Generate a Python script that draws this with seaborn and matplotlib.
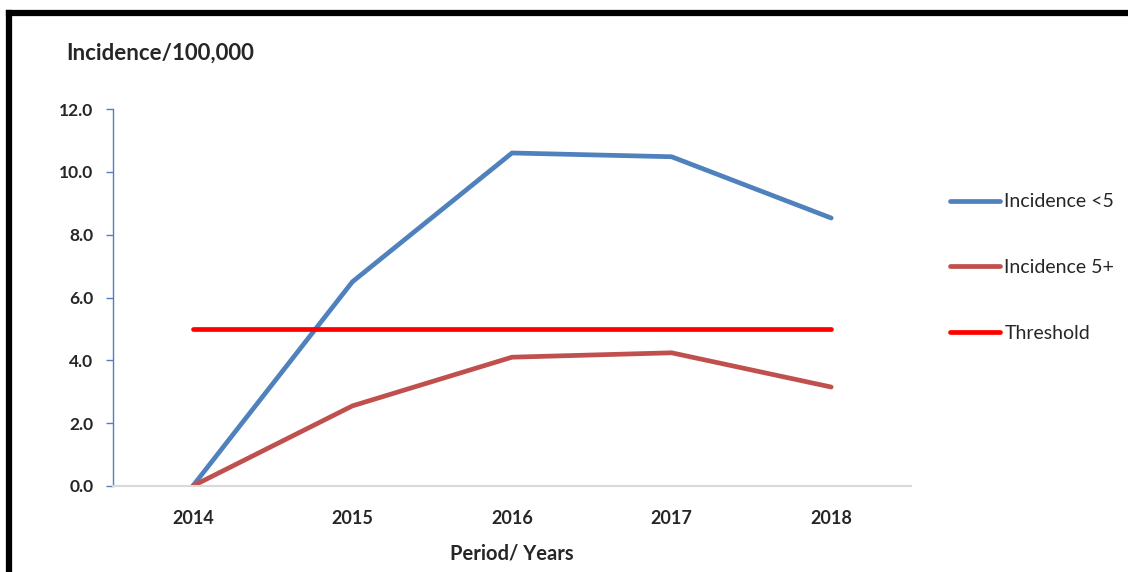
import pandas as pd
import matplotlib.pyplot as plt
import seaborn as sns
from matplotlib.lines import Line2D
from matplotlib.ticker import FixedLocator

# data
years = ['2014', '2015', '2016', '2017', '2018']
incidence_under5 = [0.0, 6.5, 10.6, 10.48, 8.53]
incidence_5plus = [0.0, 2.55, 4.1, 4.24, 3.15]
threshold = [5.0, 5.0, 5.0, 5.0, 5.0]
series_names = ['Incidence <5', 'Incidence 5+', 'Threshold']
colors = ['#4F81BD', '#C0504D', '#FF0000']

df = pd.DataFrame({
    'Year': years * 3,
    'Value': incidence_under5 + incidence_5plus + threshold,
    'Series': [series_names[0]] * 5 + [series_names[1]] * 5 + [series_names[2]] * 5,
})

sns.set_style('white')
plt.rcParams['font.family'] = ['Lato', 'DejaVu Sans']

fig = plt.figure(figsize=(11.28, 5.72), dpi=100)
ax = fig.add_axes([113 / 1128, 1 - 486 / 572, 798 / 1128, 377 / 572])

sns.lineplot(data=df, x='Year', y='Value', hue='Series', hue_order=series_names,
             palette=colors, linewidth=3.4, ax=ax, sort=False)

ax.set_xlim(-0.5, 4.5)
ax.set_ylim(0, 12)
ax.set_yticks([0, 2, 4, 6, 8, 10, 12])
ax.set_yticklabels([f'{v:.1f}' for v in range(0, 13, 2)], fontsize=12.5, fontweight='bold')
ax.set_xticks(range(5))
ax.set_xticklabels(years, fontsize=13, fontweight='bold')
ax.xaxis.set_minor_locator(FixedLocator([-0.5, 0.5, 1.5, 2.5, 3.5, 4.5]))
ax.tick_params(axis='x', which='major', length=0, pad=17)
ax.tick_params(axis='x', which='minor', length=5, width=1.2, color='#D9D9D9', direction='out')
ax.tick_params(axis='y', length=5, width=1.0, color='#4F81BD', direction='out', left=True, pad=9)

for s in ['top', 'right']:
    ax.spines[s].set_visible(False)
ax.spines['left'].set_color('#4F81BD')
ax.spines['left'].set_linewidth(1.0)
ax.spines['bottom'].set_color('#D9D9D9')
ax.spines['bottom'].set_linewidth(1.5)
ax.grid(False)

ax.set_xlabel('Period/ Years', fontsize=14.5, fontweight='bold', labelpad=12)
ax.set_ylabel('')
fig.text(66 / 1128, 1 - 53 / 572, 'Incidence/100,000', fontsize=16, fontweight='bold',
         va='center', ha='left')

ax.legend(title=None, frameon=False, loc='upper left', bbox_to_anchor=(1.039, 0.797),
          fontsize=14, handlelength=2.6, handletextpad=0.2, labelspacing=2.5,
          borderaxespad=0)

# black frame along top and left edges
fig.add_artist(Line2D([9 / 1128, 9 / 1128], [0, 1 - 13 / 572], color='black',
                      linewidth=4.5, transform=fig.transFigure, solid_capstyle='projecting'))
fig.add_artist(Line2D([9 / 1128, 1], [1 - 13 / 572, 1 - 13 / 572], color='black',
                      linewidth=4.5, transform=fig.transFigure, solid_capstyle='projecting'))

plt.savefig('out.png', dpi=100)
